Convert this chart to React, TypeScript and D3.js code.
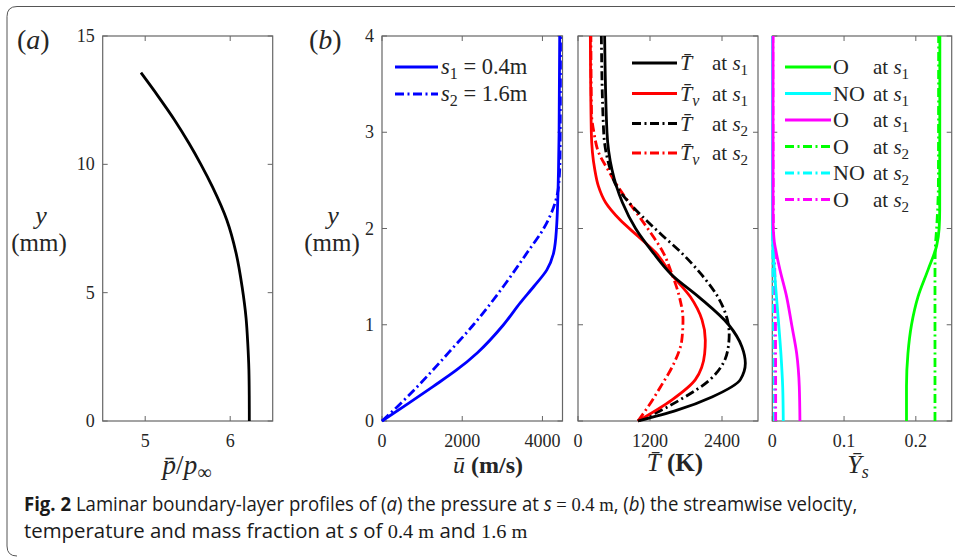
import React, { useLayoutEffect, useRef, useState } from 'react';
import * as d3 from 'd3';

// ---------- data ----------
// (a) pressure profile at s = 0.4 m
const pressY = [0, 1, 2, 3, 4, 5.23, 6.53, 7.83, 9.13, 10, 10.82, 11.73, 12.64, 13.57];
const pressVal = [6.225, 6.224, 6.22, 6.207, 6.187, 6.14, 6.07, 5.96, 5.79, 5.655, 5.515, 5.345, 5.155, 4.95];

// (b) velocity
const uY1 = [0, 0.18, 0.36, 0.53, 0.71, 1.0, 1.23, 1.4, 1.57, 1.75, 2.0, 2.6, 3.0, 4];
const uVal1 = [0, 650, 1280, 1860, 2380, 3030, 3450, 3790, 4110, 4280, 4350, 4400, 4415, 4430];
const uY2 = [0, 0.18, 0.53, 0.71, 1.0, 1.4, 1.75, 2.0, 2.26, 2.43, 2.78, 4];
const uVal2 = [0, 460, 1270, 1660, 2280, 3030, 3620, 4030, 4310, 4400, 4440, 4450];

// temperatures
const tY1 = [4, 3, 2.61, 2.44, 2.27, 2, 1.75, 1.52, 1.29, 1.0, 0.77, 0.6, 0.43, 0.25, 0.11, 0];
const tVal1 = [444, 483, 567, 640, 740, 960, 1250, 1560, 2011, 2511, 2733, 2789, 2706, 2233, 1640, 1000];
const tvY1 = [4, 3, 2.61, 2.44, 2.27, 2.09, 1.92, 1.75, 1.52, 1.29, 1.05, 0.84, 0.7, 0.43, 0.22, 0];
const tvVal1 = [206, 222, 280, 340, 460, 700, 1000, 1294, 1560, 1872, 2067, 2122, 2111, 1956, 1567, 1000];
const tY2 = [4, 3, 2.61, 2.44, 2.27, 2.09, 1.92, 1.75, 1.52, 1.29, 1.05, 0.9, 0.75, 0.6, 0.43, 0.22, 0.1, 0];
const tVal2 = [389, 428, 540, 640, 850, 1130, 1420, 1720, 2060, 2330, 2490, 2520, 2500, 2420, 2200, 1700, 1350, 1000];
const tvY2 = [4, 3.2, 3.0, 2.78, 2.61, 2.44, 2.27, 2.09, 1.92, 1.75, 1.52, 1.29, 1.05, 0.84, 0.6, 0.36, 0.15, 0];
const tvVal2 = [215, 225, 265, 350, 500, 660, 850, 1060, 1250, 1420, 1570, 1690, 1750, 1730, 1600, 1380, 1170, 1000];

// mass fractions
const o2Y1 = [4, 2.2, 2.0, 1.82, 1.57, 1.29, 1.0, 0.7, 0.36, 0];
const o2Val1 = [0.2335, 0.2333, 0.2325, 0.229, 0.217, 0.203, 0.194, 0.189, 0.187, 0.187];
const o2Y2 = [4, 2.5, 2.0, 1.8, 1.5, 0];
const o2Val2 = [0.2318, 0.2315, 0.229, 0.2272, 0.2267, 0.2267];
const noY1 = [4, 2.0, 1.75, 1.4, 1.05, 0.7, 0.35, 0];
const noVal1 = [0.0003, 0.0003, 0.0014, 0.0046, 0.0084, 0.012, 0.0145, 0.0153];
const oY1 = [4, 2.1, 1.88, 1.75, 1.57, 1.29, 1.0, 0.7, 0.36, 0];
const oVal1 = [0.001, 0.001, 0.0025, 0.0055, 0.0107, 0.02, 0.027, 0.034, 0.0376, 0.0385];
const noY2 = [4, 1.9, 1.2, 0.6, 0];
const noVal2 = [0.0003, 0.0005, 0.0015, 0.0025, 0.003];
const oY2 = [4, 2.0, 1.7, 1.2, 0.6, 0];
const oVal2 = [0.0008, 0.0015, 0.003, 0.0042, 0.0046, 0.0047];

// ticks
const pTicksX = [5, 6];
const pTicksY = [0, 5, 10, 15];
const bTicksY = [0, 1, 2, 3, 4];
const uTicks = [0, 2000, 4000];
const tTicks = [0, 1200, 2400];
const yTicks = [0, 0.1, 0.2];

const SERIF = '"Liberation Serif", "Times New Roman", serif';
const SANS = '"Open Sans", "Noto Sans", sans-serif';
const DASHDOT = '9,3.5,2,3.5';
const AXC = '#666';
const TXT = '#262626';

type Sc = d3.ScaleLinear<number, number>;

function Frame({ x, y, xt, yt, xlab, ylab }: { x: Sc; y: Sc; xt: number[]; yt: number[]; xlab: boolean; ylab: boolean }) {
  const [x0, x1] = x.range();
  const [y0, y1] = y.range();
  const tl = 5;
  return (
    <g>
      {xt.map((t) => (
        <g key={'x' + t}>
          <line x1={x(t)} x2={x(t)} y1={y0} y2={y0 - tl} stroke={AXC} strokeWidth={1} />
          <line x1={x(t)} x2={x(t)} y1={y1} y2={y1 + tl} stroke={AXC} strokeWidth={1} />
          {xlab && (
            <text x={x(t)} y={y0 + 26} textAnchor="middle" fontFamily={SERIF} fontSize={18} fill={TXT}>{String(t)}</text>
          )}
        </g>
      ))}
      {yt.map((t) => (
        <g key={'y' + t}>
          <line x1={x0} x2={x0 + tl} y1={y(t)} y2={y(t)} stroke={AXC} strokeWidth={1} />
          <line x1={x1} x2={x1 - tl} y1={y(t)} y2={y(t)} stroke={AXC} strokeWidth={1} />
          {ylab && (
            <text x={x0 - 8} y={y(t) + 6} textAnchor="end" fontFamily={SERIF} fontSize={18} fill={TXT}>{String(t)}</text>
          )}
        </g>
      ))}
      <rect x={x0} y={y1} width={x1 - x0} height={y0 - y1} fill="none" stroke={AXC} strokeWidth={1.2} />
    </g>
  );
}

function curve(x: Sc, y: Sc, ys: number[], vs: number[]) {
  const pts = ys.map((yy, i) => [vs[i], yy] as [number, number]).sort((a, b) => a[1] - b[1]);
  const gen = d3.line<[number, number]>().x((d) => x(d[0])).y((d) => y(d[1])).curve(d3.curveMonotoneY);
  return gen(pts) || '';
}

const CAP_X = 24;
const CAP_W1 = 834;
const CAP_W2 = 504;

export default function App() {
  const top = 36, bot = 421;
  const xa = d3.scaleLinear().domain([4.5, 6.5]).range([102.7, 272.7]);
  const ya = d3.scaleLinear().domain([0, 15]).range([bot, top]);
  const yb = d3.scaleLinear().domain([0, 4]).range([bot, top]);
  const xu = d3.scaleLinear().domain([0, 4500]).range([382, 562.5]);
  const xT = d3.scaleLinear().domain([0, 3000]).range([578, 758]);
  const xY = d3.scaleLinear().domain([0, 0.25]).range([772.3, 951.7]);

  const cap1 = useRef<SVGTextElement>(null);
  const cap2 = useRef<SVGTextElement>(null);
  const [sc, setSc] = useState<[number, number]>([1, 1]);
  useLayoutEffect(() => {
    const w1 = cap1.current ? cap1.current.getBBox().width : CAP_W1;
    const w2 = cap2.current ? cap2.current.getBBox().width : CAP_W2;
    setSc([CAP_W1 / (w1 || CAP_W1), CAP_W2 / (w2 || CAP_W2)]);
  }, []);

  const LW = 2.8;

  const tLegend = [
    { c: '#000', d: undefined as string | undefined, v: false, s: '1' },
    { c: '#ff0000', d: undefined, v: true, s: '1' },
    { c: '#000', d: DASHDOT, v: false, s: '2' },
    { c: '#ff0000', d: DASHDOT, v: true, s: '2' },
  ];
  const tRows = [63, 93.5, 123.5, 153];
  const yLegend = [
    { c: '#00ff00', d: undefined as string | undefined, n: 'O', s: '1' },
    { c: '#00ffff', d: undefined, n: 'NO', s: '1' },
    { c: '#ff00ff', d: undefined, n: 'O', s: '1' },
    { c: '#00ff00', d: DASHDOT, n: 'O', s: '2' },
    { c: '#00ffff', d: DASHDOT, n: 'NO', s: '2' },
    { c: '#ff00ff', d: DASHDOT, n: 'O', s: '2' },
  ];
  const yRows = [67, 93.5, 120, 146.5, 173, 199.5];

  const atS = (s: string) => (
    <>
      {'at '}
      <tspan fontStyle="italic">s</tspan>
      <tspan dy={5} fontSize={15}>{s}</tspan>
    </>
  );

  return (
    <svg width={955} height={559} style={{ position: 'absolute', left: 0, top: 0 }} xmlns="http://www.w3.org/2000/svg">
      <rect x={0} y={0} width={955} height={559} fill="#fff" />
      {/* outer rounded box */}
      <path d="M 970 6.5 L 17 6.5 Q 7 6.5 7 16.5 L 7 546 Q 7 556 17 556" fill="none" stroke="#555" strokeWidth={1} />

      {/* panel labels */}
      <text x={17} y={49} fontFamily={SERIF} fontSize={28} fill={TXT}>(<tspan fontStyle="italic">a</tspan>)</text>
      <text x={309} y={49} fontFamily={SERIF} fontSize={28} fill={TXT}>(<tspan fontStyle="italic">b</tspan>)</text>

      {/* panel a */}
      <Frame x={xa} y={ya} xt={pTicksX} yt={pTicksY} xlab ylab />
      <path d={curve(xa, ya, pressY, pressVal)} fill="none" stroke="#000" strokeWidth={LW} />
      <text x={41} y={224} textAnchor="middle" fontFamily={SERIF} fontSize={26} fontStyle="italic" fill={TXT}>y</text>
      <text x={39} y={251} textAnchor="middle" fontFamily={SERIF} fontSize={25} fill={TXT}>(mm)</text>
      <text x={187} y={474} textAnchor="middle" fontFamily={SERIF} fontSize={27} fill={TXT}>
        <tspan fontStyle="italic">{'p\u0304'}</tspan>/<tspan fontStyle="italic">p</tspan>
        <tspan dy={5} fontSize={20}>∞</tspan>
      </text>

      {/* panel b1 velocity */}
      <Frame x={xu} y={yb} xt={uTicks} yt={bTicksY} xlab ylab />
      <path d={curve(xu, yb, uY2, uVal2)} fill="none" stroke="#0000ff" strokeWidth={LW} strokeDasharray={DASHDOT} />
      <path d={curve(xu, yb, uY1, uVal1)} fill="none" stroke="#0000ff" strokeWidth={LW} />
      <text x={333} y={224} textAnchor="middle" fontFamily={SERIF} fontSize={26} fontStyle="italic" fill={TXT}>y</text>
      <text x={332} y={251} textAnchor="middle" fontFamily={SERIF} fontSize={25} fill={TXT}>(mm)</text>
      <line x1={395} x2={438} y1={67} y2={67} stroke="#0000ff" strokeWidth={LW} />
      <line x1={395} x2={438} y1={94} y2={94} stroke="#0000ff" strokeWidth={LW} strokeDasharray={DASHDOT} />
      <text x={441} y={74} fontFamily={SERIF} fontSize={22.5} fill={TXT}>
        <tspan fontStyle="italic">s</tspan>
        <tspan dy={5} fontSize={16}>1</tspan>
        <tspan dy={-5}>{' = 0.4m'}</tspan>
      </text>
      <text x={441} y={101} fontFamily={SERIF} fontSize={22.5} fill={TXT}>
        <tspan fontStyle="italic">s</tspan>
        <tspan dy={5} fontSize={16}>2</tspan>
        <tspan dy={-5}>{' = 1.6m'}</tspan>
      </text>
      <text x={488} y={473} textAnchor="middle" fontFamily={SERIF} fontSize={24} fill={TXT}>
        <tspan fontStyle="italic">{'u\u0304'}</tspan>
        <tspan fontWeight="bold">{' (m/s)'}</tspan>
      </text>

      {/* panel b2 temperature */}
      <Frame x={xT} y={yb} xt={tTicks} yt={bTicksY} xlab ylab={false} />
      <path d={curve(xT, yb, tvY2, tvVal2)} fill="none" stroke="#ff0000" strokeWidth={LW} strokeDasharray={DASHDOT} />
      <path d={curve(xT, yb, tY2, tVal2)} fill="none" stroke="#000" strokeWidth={LW} strokeDasharray={DASHDOT} />
      <path d={curve(xT, yb, tvY1, tvVal1)} fill="none" stroke="#ff0000" strokeWidth={LW} />
      <path d={curve(xT, yb, tY1, tVal1)} fill="none" stroke="#000" strokeWidth={LW} />
      {tLegend.map((l, i) => (
        <g key={'tl' + i}>
          <line x1={632} x2={677} y1={tRows[i]} y2={tRows[i]} stroke={l.c} strokeWidth={LW} strokeDasharray={l.d} />
          <text x={680} y={tRows[i] + 7} fontFamily={SERIF} fontSize={22} fontStyle="italic" fill={TXT}>
            {'T\u0304'}
            {l.v && <tspan dy={5} fontSize={16}>v</tspan>}
          </text>
          <text x={712} y={tRows[i] + 7} fontFamily={SERIF} fontSize={21} fill={TXT}>{atS(l.s)}</text>
        </g>
      ))}
      <text x={675} y={471} textAnchor="middle" fontFamily={SERIF} fontSize={25} fill={TXT}>
        <tspan fontStyle="italic">{'T\u0304'}</tspan>
        <tspan fontWeight="bold">{' (K)'}</tspan>
      </text>

      {/* panel b3 mass fraction */}
      <Frame x={xY} y={yb} xt={yTicks} yt={bTicksY} xlab ylab={false} />
      <path d={curve(xY, yb, noY2, noVal2)} fill="none" stroke="#00ffff" strokeWidth={LW} strokeDasharray={DASHDOT} />
      <path d={curve(xY, yb, oY2, oVal2)} fill="none" stroke="#ff00ff" strokeWidth={LW} strokeDasharray={DASHDOT} />
      <path d={curve(xY, yb, o2Y1, o2Val1)} fill="none" stroke="#00ff00" strokeWidth={LW} />
      <path d={curve(xY, yb, o2Y2, o2Val2)} fill="none" stroke="#00ff00" strokeWidth={LW} strokeDasharray={DASHDOT} />
      <path d={curve(xY, yb, noY1, noVal1)} fill="none" stroke="#00ffff" strokeWidth={LW} />
      <path d={curve(xY, yb, oY1, oVal1)} fill="none" stroke="#ff00ff" strokeWidth={LW} />
      {yLegend.map((l, i) => (
        <g key={'yl' + i}>
          <line x1={785} x2={831} y1={yRows[i]} y2={yRows[i]} stroke={l.c} strokeWidth={LW} strokeDasharray={l.d} />
          <text x={833} y={yRows[i] + 7} fontFamily={SERIF} fontSize={22} fill={TXT}>{l.n}</text>
          <text x={873} y={yRows[i] + 7} fontFamily={SERIF} fontSize={21} fill={TXT}>{atS(l.s)}</text>
        </g>
      ))}
      <text x={858} y={473} textAnchor="middle" fontFamily={SERIF} fontSize={26} fontStyle="italic" fill={TXT}>
        {'Y\u0304'}
        <tspan dy={5} fontSize={18}>s</tspan>
      </text>

      {/* caption */}
      <g transform={`translate(${CAP_X},0) scale(${sc[0]},1)`}>
        <text ref={cap1} x={0} y={511} fontFamily={SANS} fontSize={19.5} fill="#1a1a1a">
          <tspan fontWeight="bold">Fig. 2</tspan>
          {'  Laminar boundary-layer profiles of ('}
          <tspan fontStyle="italic">a</tspan>
          {') the pressure at '}
          <tspan fontStyle="italic">s</tspan>
          <tspan fontFamily={SERIF}>{' = 0.4 m'}</tspan>
          {', ('}
          <tspan fontStyle="italic">b</tspan>
          {') the streamwise velocity,'}
        </text>
      </g>
      <g transform={`translate(${CAP_X},0) scale(${sc[1]},1)`}>
        <text ref={cap2} x={0} y={538} fontFamily={SANS} fontSize={19.5} fill="#1a1a1a">
          {'temperature and mass fraction at '}
          <tspan fontStyle="italic">s</tspan>
          {' of '}
          <tspan fontFamily={SERIF}>0.4 m</tspan>
          {' and '}
          <tspan fontFamily={SERIF}>1.6 m</tspan>
        </text>
      </g>
    </svg>
  );
}
